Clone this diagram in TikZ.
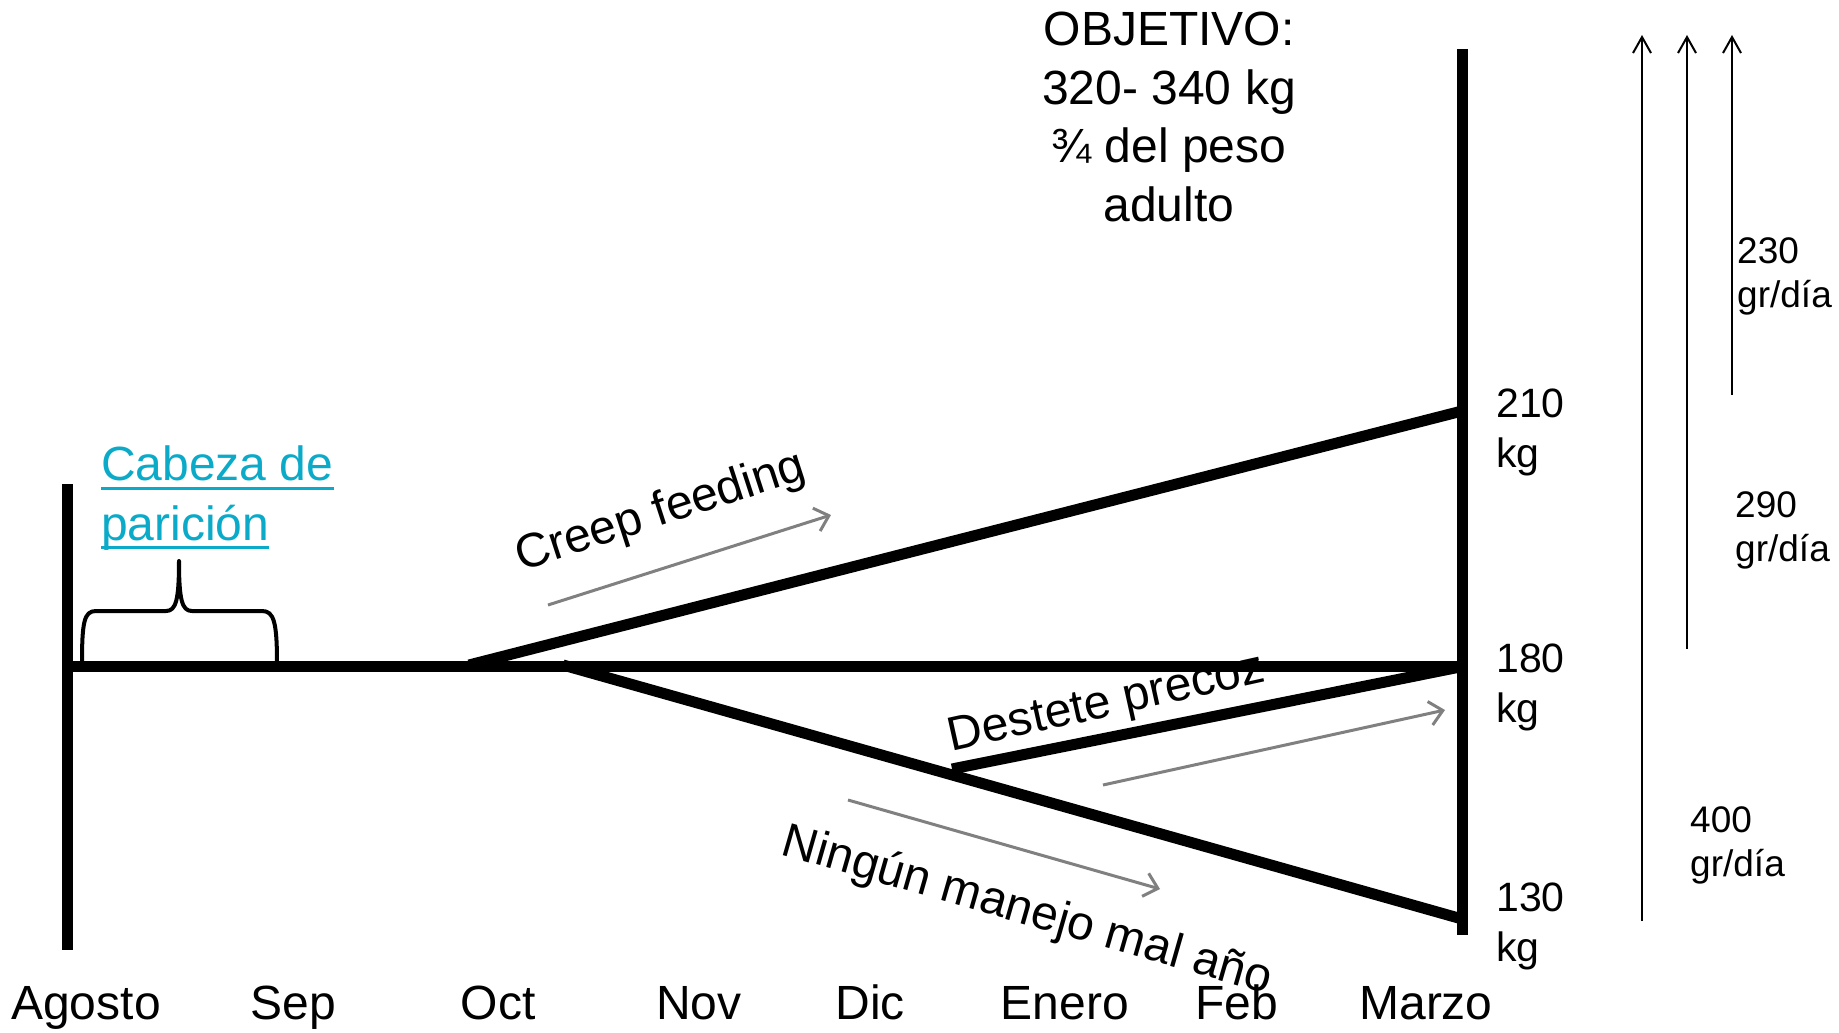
\documentclass[tikz,border=0pt]{standalone}
\usepackage{fontspec}
\setmainfont{Liberation Sans}
\usetikzlibrary{arrows.meta}
\definecolor{cab}{RGB}{10,170,200}
\definecolor{garrow}{RGB}{128,128,128}
\begin{document}
\begin{tikzpicture}[x=1pt,y=-1pt,
  thickln/.style={line width=11pt},
  thinarrow/.style={line width=2pt,-{Straight Barb[length=16pt,width=18pt]}},
  greyarrow/.style={garrow,line width=3pt,-{Straight Barb[length=13pt,width=24pt]}},
  lbl/.style={inner sep=0pt,font=\fontsize{48}{58.5}\selectfont},
  kgl/.style={inner sep=0pt,align=left,anchor=base west,font=\fontsize{41}{49.5}\selectfont},
  ratel/.style={inner sep=0pt,align=left,anchor=base west,font=\fontsize{37}{44}\selectfont},
  cabl/.style={inner sep=0pt,anchor=base west,text=cab,font=\fontsize{48}{57}\selectfont},
  ul/.style={cab,line width=3pt}
]
\useasboundingbox (0,0) rectangle (1839,1033);
% frame coordinates
\coordinate (ltop) at (67,484);
\coordinate (lbot) at (67,950);
\coordinate (rtop) at (1462,49);
\coordinate (rbot) at (1462,935);
\coordinate (b0) at (62,666);
\coordinate (b1) at (1462,666);
\coordinate (cs) at (469,665);
\coordinate (ce) at (1462,411);
\coordinate (ls) at (563,665);
\coordinate (le) at (1462,919);
\coordinate (ds) at (952,769);
\coordinate (de) at (1460,667);
% thick lines
\draw[thickln] (ltop) -- (lbot);
\draw[thickln] (rtop) -- (rbot);
\draw[thickln] (b0) -- (b1);
\draw[thickln] (cs) -- (ce);
\draw[thickln] (ls) -- (le);
\draw[thickln] (ds) -- (de);
% brace
\draw[line width=4pt,line join=round] (82,664) .. controls (82,622) and (84,611) .. (96,611) -- (166,611) .. controls (176,611) and (179,600) .. (179,561) .. controls (179,600) and (182,611) .. (192,611) -- (262,611) .. controls (274,611) and (277,622) .. (277,664);
% Cabeza de paricion
\node[cabl] (cab1) at (101,480) {Cabeza de};
\node[cabl] (cab2) at (101,540) {parición};
\draw[ul] ([yshift=-8pt]cab1.base west) -- ([yshift=-8pt]cab1.base east);
\draw[ul] ([yshift=-7pt]cab2.base west) -- ([yshift=-7pt]cab2.base east);
% objective
\node[lbl,align=center] (obj) at (1169,117) {OBJETIVO:\\320- 340 kg\\¾ del peso\\adulto};
% kg labels (anchor = baseline of last line)
\node[kgl] (k210) at (1496,467) {210\\kg};
\node[kgl] (k180) at (1496,722) {180\\kg};
\node[kgl] (k130) at (1496,961) {130\\kg};
% rate arrows
\coordinate (r1s) at (1642,921);
\coordinate (r1e) at (1642,35);
\coordinate (r2s) at (1687,649);
\coordinate (r2e) at (1687,35);
\coordinate (r3s) at (1732,395);
\coordinate (r3e) at (1732,35);
\draw[thinarrow] (r1s) -- (r1e);
\draw[thinarrow] (r2s) -- (r2e);
\draw[thinarrow] (r3s) -- (r3e);
\node[ratel] (g230) at (1737,307) {230\\gr/día};
\node[ratel] (g290) at (1735,561) {290\\gr/día};
\node[ratel] (g400) at (1690,876) {400\\gr/día};
% grey arrows
\coordinate (a1s) at (548,605);
\coordinate (a1e) at (831,515);
\coordinate (a2s) at (1103,785);
\coordinate (a2e) at (1445,710);
\coordinate (a3s) at (848,800);
\coordinate (a3e) at (1160,889);
\draw[greyarrow] (a1s) -- (a1e);
\draw[greyarrow] (a2s) -- (a2e);
\draw[greyarrow] (a3s) -- (a3e);
% path labels
\node[lbl,rotate=18] (creep) at (661,513) {Creep feeding};
\node[lbl,rotate=12.5] (dest) at (1107,705) {Destete precoz};
\node[lbl,rotate=-16] (ning) at (1027,912) {Ningún manejo mal año};
% months
\node[lbl,anchor=base] (m1) at (86,1019) {Agosto};
\node[lbl,anchor=base] (m2) at (293,1019) {Sep};
\node[lbl,anchor=base] (m3) at (498,1019) {Oct};
\node[lbl,anchor=base] (m4) at (699,1019) {Nov};
\node[lbl,anchor=base] (m5) at (870,1019) {Dic};
\node[lbl,anchor=base] (m6) at (1065,1019) {Enero};
\node[lbl,anchor=base] (m7) at (1237,1019) {Feb};
\node[lbl,anchor=base] (m8) at (1426,1019) {Marzo};
\end{tikzpicture}
\end{document}
